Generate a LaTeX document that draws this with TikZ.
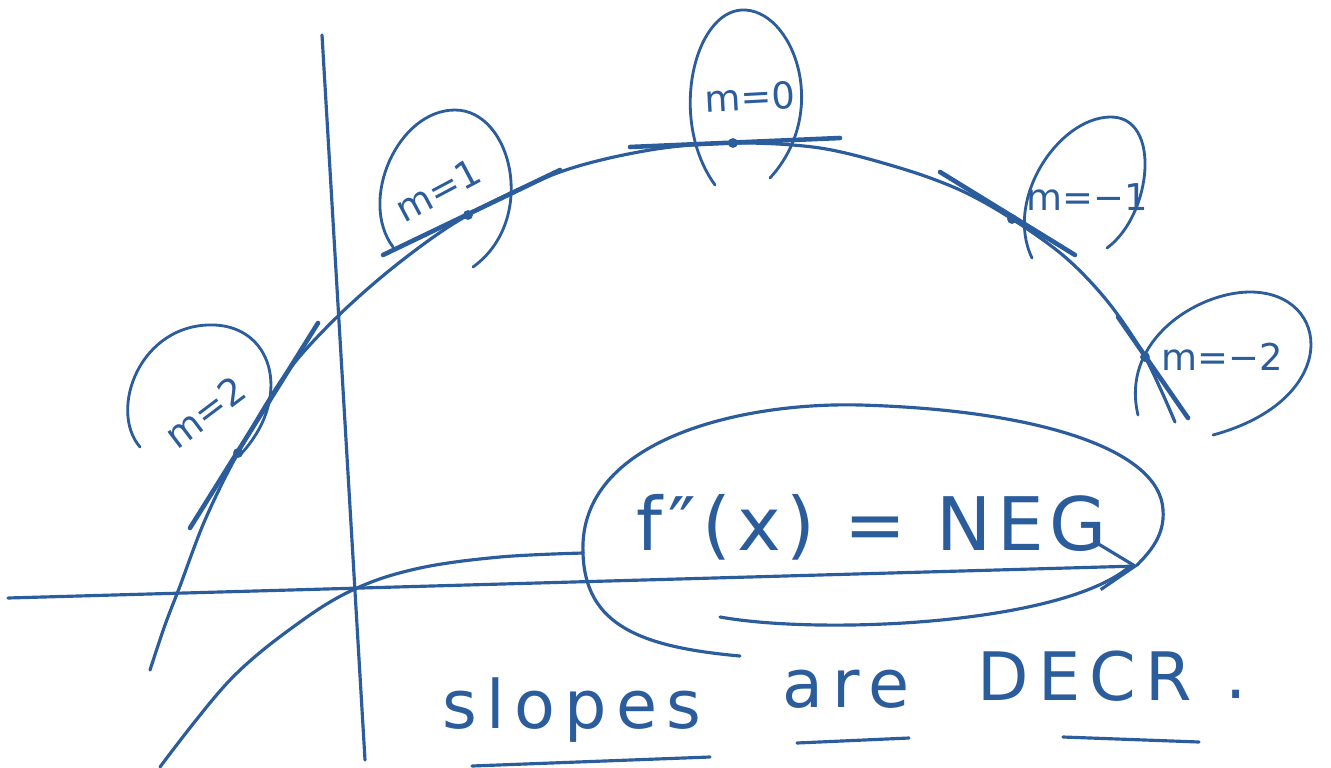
\documentclass[tikz,border=0pt]{standalone}
\usepackage{fontspec}
\setmainfont{DejaVu Sans}
\usetikzlibrary{arrows.meta,positioning}
\definecolor{ink}{HTML}{2B5C9C}

\begin{document}
\begin{tikzpicture}[x=0.01cm,y=-0.01cm,
  pen/.style={draw=ink,line width=0.9pt,line cap=round,line join=round},
  tangent/.style={pen,line width=1.3pt},
  loopline/.style={pen,line width=0.8pt},
  slope/.style={text=ink,font=\fontsize{10.5}{12}\selectfont,inner sep=1pt},
  bigtext/.style={text=ink,font=\fontsize{21}{25}\selectfont\addfontfeature{LetterSpace=8},anchor=base},
  words/.style={text=ink,font=\fontsize{19}{23}\selectfont\addfontfeature{LetterSpace=14},anchor=base},
  arrow/.style={pen,-{Straight Barb[length=3.5mm,width=4.5mm]}},
  dot/.style={fill=ink}
]
\useasboundingbox[fill=white] (0,0) rectangle (1331,767);

% axes
\coordinate (xl) at (8,598);
\coordinate (xr) at (1138,566);
\coordinate (yt) at (322,35);
\coordinate (yb) at (365,760);
\draw[arrow] (xl) -- (xr);
\draw[pen] (yt) -- (yb);

% concave-down curve
\draw[pen] plot[smooth,tension=0.55] coordinates {(150,670) (165,625) (180,586) (205,520)
  (238,453) (285,375) (337,317) (400,262) (468,215) (560,172) (650,150) (733,143)
  (820,148) (900,168) (960,190) (1012,219) (1065,257) (1108,302) (1145,357) (1175,422)};

% tangent points
\coordinate (p2) at (238,453);
\coordinate (p1) at (468,215);
\coordinate (p0) at (733,143);
\coordinate (pm1) at (1012,219);
\coordinate (pm2) at (1145,357);
\foreach \p in {p2,p1,p0,pm1,pm2} \fill[dot] (\p) circle (1.4pt);

% tangent lines
\coordinate (t2a) at (190,528);  \coordinate (t2b) at (318,323);
\coordinate (t1a) at (383,255);  \coordinate (t1b) at (560,170);
\coordinate (t0a) at (630,147);  \coordinate (t0b) at (840,138);
\coordinate (tm1a) at (940,172); \coordinate (tm1b) at (1075,255);
\coordinate (tm2a) at (1118,317); \coordinate (tm2b) at (1188,418);
\draw[tangent] (t2a) -- (t2b);
\draw[tangent] (t1a) -- (t1b);
\draw[tangent] (t0a) -- (t0b);
\draw[tangent] (tm1a) -- (tm1b);
\draw[tangent] (tm2a) -- (tm2b);

% loops round the slope labels
\draw[loopline] (140,447) .. controls (108,410) and (140,322) .. (215,325)
  .. controls (275,328) and (292,400) .. (240,455);
\draw[loopline] (393,247) .. controls (358,200) and (398,110) .. (455,110)
  .. controls (512,110) and (538,220) .. (473,267);
\draw[loopline] (715,185) .. controls (668,120) and (694,12) .. (742,10)
  .. controls (792,8) and (832,110) .. (770,178);
\draw[loopline] (1032,258) .. controls (1004,200) and (1058,118) .. (1110,117)
  .. controls (1162,116) and (1152,215) .. (1107,248);
\draw[loopline] (1138,415) .. controls (1120,340) and (1198,292) .. (1250,292)
  .. controls (1332,292) and (1342,400) .. (1213,435);

% slope labels
\node[slope,rotate=37] (m2) at (205,412) {m=2};
\node[slope,rotate=28] (m1) at (438,190) {m=1};
\node[slope,rotate=3] (m0) at (750,97) {m=0};
\node[slope] (mm1) at (1087,197) {m=−1};
\node[slope] (mm2) at (1222,357) {m=−2};

% second curve through origin into the loop
\draw[pen] plot[smooth,tension=0.6] coordinates {(160,767) (230,680) (300,622) (357,588)
  (420,568) (500,557) (583,553)};
\draw[pen] (583,553) .. controls (578,440) and (740,402) .. (860,405)
  .. controls (1040,410) and (1160,450) .. (1163,510)
  .. controls (1165,535) and (1150,552) .. (1137,565);
\draw[pen] (583,553) .. controls (585,625) and (640,647) .. (740,656);
\draw[pen] (720,617) .. controls (820,635) and (1060,625) .. (1129,567);

\node[bigtext] (neg) at (872,550) {f″(x) = NEG};

% caption
\node[words] (slopes) at (572,728) {slopes};
\node[words] (are) at (846,707) {are};
\node[words] (decr) at (1085,700) {DECR};
\node[words] (stop) at (1236,698) {.};
\draw[pen] (472,766) -- (710,757);
\draw[pen] (797,743) -- (909,738);
\draw[pen] (1063,737) -- (1199,742);
\end{tikzpicture}
\end{document}
